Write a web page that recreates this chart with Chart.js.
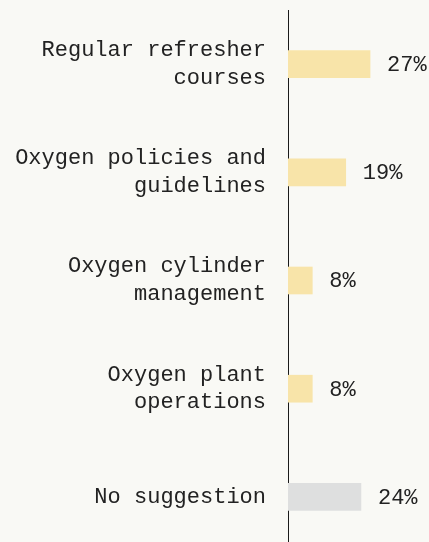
<!DOCTYPE html>
<html>
<head>
<meta charset="utf-8">
<script src="https://cdn.jsdelivr.net/npm/chart.js@4/dist/chart.umd.min.js"></script>
<style>
  html, body { margin: 0; padding: 0; background: #f9f9f5; overflow: hidden; }
  .wrap { width: 429px; height: 551px; position: relative; }
</style>
</head>
<body>
<div class="wrap"><canvas id="chart"></canvas></div>
<script>
const categories = [
    ["Regular refresher", "courses"],
    ["Oxygen policies and", "guidelines"],
    ["Oxygen cylinder", "management"],
    ["Oxygen plant", "operations"],
    ["No suggestion"]
]
const values = [27, 19, 8, 8, 24]
const valueLabels = ["27%", "19%", "8%", "8%", "24%"]

const font = "'Liberation Mono', 'DejaVu Sans Mono', monospace"

// percent labels to the right of each bar
const valueLabelPlugin = {
    id: "valueLabels",
    afterDatasetsDraw(chart) {
        const ctx = chart.ctx
        const meta = chart.getDatasetMeta(0)
        ctx.save()
        ctx.font = "22px " + font
        ctx.fillStyle = "#222222"
        ctx.textAlign = "left"
        ctx.textBaseline = "middle"
        meta.data.forEach(function (bar, i) {
            ctx.fillText(valueLabels[i], bar.x + 17, bar.y + 1)
        })
        ctx.restore()
    }
}

new Chart(document.getElementById("chart"), {
    type: "bar",
    data: {
        labels: categories,
        datasets: [{
            data: values,
            backgroundColor: ["#f8e4a9", "#f8e4a9", "#f8e4a9", "#f8e4a9", "#dedfdf"],
            barThickness: 27
        }]
    },
    options: {
        indexAxis: "y",
        responsive: true,
        maintainAspectRatio: false,
        animation: false,
        layout: { padding: { top: 10, right: 0, bottom: 0, left: 0 } },
        plugins: {
            legend: { display: false },
            tooltip: { enabled: false }
        },
        scales: {
            x: {
                display: false,
                min: 0,
                max: 46.4
            },
            y: {
                afterFit: function (scale) {
                    scale.width = 288
                    scale.paddingTop = 0
                    scale.paddingBottom = 0
                },
                grid: { display: false, drawTicks: false },
                border: { display: true, color: "#1a1a1a", width: 1 },
                ticks: {
                    padding: 22,
                    color: "#222222",
                    font: { family: font, size: 22, lineHeight: 1.27 }
                }
            }
        }
    },
    plugins: [valueLabelPlugin]
})
</script>
</body>
</html>
